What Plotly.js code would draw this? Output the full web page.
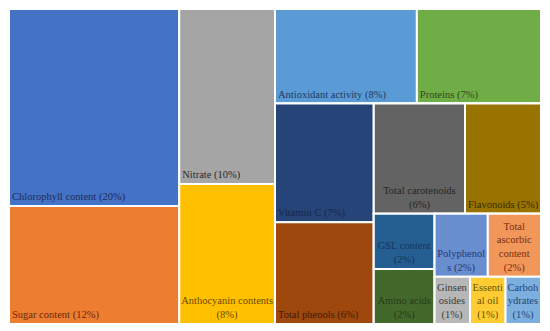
<!DOCTYPE html>
<html>
<head>
<meta charset="utf-8">
<script src="https://cdn.plot.ly/plotly-3.0.1.min.js"></script>
<style>html,body{margin:0;padding:0;background:#fff;}#chart{width:550px;height:331px;}</style>
</head>
<body>
<div id="chart"></div>
<script>
// Leaf categories (share of studies, %)
const categories = ["Chlorophyll content","Sugar content","Nitrate","Anthocyanin contents",
  "Antioxidant activity","Proteins","Vitamin C","Total phenols","Total carotenoids","Flavonoids",
  "GSL content","Amino acids","Polyphenols","Total ascorbic content","Ginsenosides","Essential oil","Carbohydrates"];
const values = [20,12,10,8,8,7,7,6,6,5,2,2,2,2,1,1,1];
// Text as wrapped in the reference
const tileLabels = ["Chlorophyll content (20%)","Sugar content (12%)","Nitrate (10%)","Anthocyanin contents<br>(8%)",
  "Antioxidant activity (8%)","Proteins (7%)","Vitamin C (7%)","Total phenols (6%)","Total carotenoids<br>(6%)","Flavonoids (5%)",
  "GSL content<br>(2%)","Amino acids<br>(2%)","Polyphenol<br>s (2%)","Total<br>ascorbic<br>content<br>(2%)","Ginsen<br>osides<br>(1%)","Essenti<br>al oil<br>(1%)","Carboh<br>ydrates<br>(1%)"];
// Whether the label is centred (wrapped labels) or left aligned
const labelCentered = [false,false,false,true,false,false,false,false,true,false,true,true,true,true,true,true,true];
// Grouping of the tiles (layout groups)
const leafParents = ["C1","C1","C2","C2","C3top","C3top","VC","VC","RestTop","RestTop","GSLcol","GSLcol","Row1","Row1","Row2","Row2","Row2"];
const groupIds = ["R","C1","C2","C3","C3top","C3bot","VC","Rest","RestTop","Bot2","GSLcol","Rest2","Row1","Row2"];
const groupParents = ["","R","R","R","C3","C3","C3bot","C3bot","Rest","Rest","Bot2","Bot2","Rest2","Rest2"];
const fillColors = ["#4472C4","#ED7D31","#A5A5A5","#FFC000","#5B9BD5","#70AD47","#264478","#9E480E","#636363","#997300",
  "#255E91","#43682B","#698ED0","#F1975A","#B7B7B7","#FFCD33","#7CAFDD"];
const textColors = ["#1F2D5C","#6E2A08","#2B2B2B","#6B4A00","#1F3864","#2E4A1C","#16284A","#3E1A04","#262626","#3A2C00",
  "#16365A","#243B17","#24386E","#7A2E10","#3A3A3A","#6B5200","#23467A"];

const FONT = "'Liberation Serif', 'Times New Roman', serif";
const FS = 10.5;
const ids = groupIds.concat(categories);
const parents = groupParents.concat(leafParents);
const vals = groupIds.map(() => 0).concat(values);
const blanks = groupIds.map(() => "");
const leftTexts = blanks.concat(tileLabels.map((t, i) => labelCentered[i] ? "" : t));
const centerTexts = blanks.concat(tileLabels.map((t, i) => labelCentered[i] ? t : ""));
const colors = groupIds.map(() => "#ffffff").concat(fillColors);
const clear = ids.map(() => "rgba(0,0,0,0)");
const tcolors = groupIds.map(() => "#ffffff").concat(textColors);

function tm(text, fills, lineW, pos) {
  return {
    type: "treemap",
    ids: ids, labels: ids, parents: parents, values: vals,
    branchvalues: "remainder", sort: false,
    text: text, textinfo: "text", textposition: pos,
    textfont: {family: FONT, size: FS, color: tcolors},
    insidetextfont: {family: FONT, size: FS, color: tcolors},
    tiling: {packing: "slice-dice", pad: 0},
    marker: {colors: fills, line: {color: "#ffffff", width: lineW}, pad: {t: 0, l: 0, r: 0, b: 0}, depthfade: false},
    leaf: {opacity: 1},
    pathbar: {visible: false},
    hoverinfo: "skip"
  };
}
const layout = {
  width: 550, height: 331,
  margin: {l: 9, r: 9, t: 9, b: 7},
  paper_bgcolor: "#ffffff",
  font: {family: FONT, size: FS},
  uniformtext: {mode: "show", minsize: FS},
  showlegend: false
};
Plotly.newPlot("chart", [tm(leftTexts, colors, 2, "bottom left"), tm(centerTexts, clear, 0, "bottom center")], layout, {displayModeBar: false, staticPlot: true});
</script>
</body>
</html>
